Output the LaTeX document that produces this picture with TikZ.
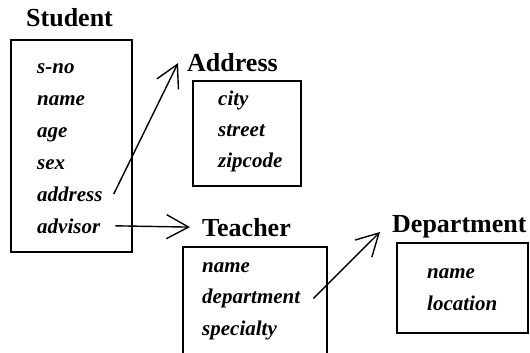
\documentclass[tikz,border=0pt]{standalone}
\usepackage{fontspec}
\setmainfont{Liberation Serif}
\usetikzlibrary{arrows.meta}
\tikzset{
title/.style={inner sep=0, anchor=base west, font=\fontsize{26}{26}\selectfont\bfseries},
field/.style={inner sep=0, anchor=base west, font=\fontsize{21}{21}\selectfont\bfseries\itshape},
relbox/.style={draw, line width=1.3pt},
link/.style={line width=1.4pt, -{Straight Barb[length=22pt, width=24pt, line width=1.4pt]}}}

\begin{document}
\begin{tikzpicture}[x=1pt, y=-1pt]
\useasboundingbox (0,0) rectangle (530,353);
% Student
\node [title] at (26, 27) (s-title) {Student};
\draw [relbox] (11, 40) rectangle (132, 252);
\foreach \flabel [count=\i, evaluate={\yy=74 + 31.8 * (\i - 1);}] in {s-no, name, age, sex, address, advisor}{
      \node [field] at (37, \yy) (s-\i) {\flabel};
}
% Address
\node [title] at (187, 72) (a-title) {Address};
\draw [relbox] (193, 81) rectangle (301, 186);
\foreach \flabel [count=\i, evaluate={\yy=105 + 31 * (\i - 1);}] in {city, street, zipcode}{
      \node [field] at (218, \yy) (a-\i) {\flabel};
}
% Teacher
\node [title] at (202, 236) (t-title) {Teacher};
\draw [relbox] (183, 360) -- (183, 247) -- (327, 247) -- (327, 360);
\foreach \flabel [count=\i, evaluate={\yy=272 + 31.5 * (\i - 1);}] in {name, department, specialty}{
      \node [field] at (202, \yy) (t-\i) {\flabel};
}
% Department
\node [title] at (392, 232) (d-title) {Department};
\draw [relbox] (397, 243) rectangle (528, 333);
\foreach \flabel [count=\i, evaluate={\yy=278 + 32 * (\i - 1);}] in {name, location}{
      \node [field] at (427, \yy) (d-\i) {\flabel};
}
\draw [link] ([xshift=11pt]s-5.east) -- ([xshift=-9pt]a-title.west);
\draw [link] ([xshift=15pt]s-6.east) -- ([xshift=-12pt]t-title.west);
\draw [link] ([xshift=13pt]t-2.east) -- ([xshift=-12pt]d-title.base west);
\end{tikzpicture}
\end{document}
